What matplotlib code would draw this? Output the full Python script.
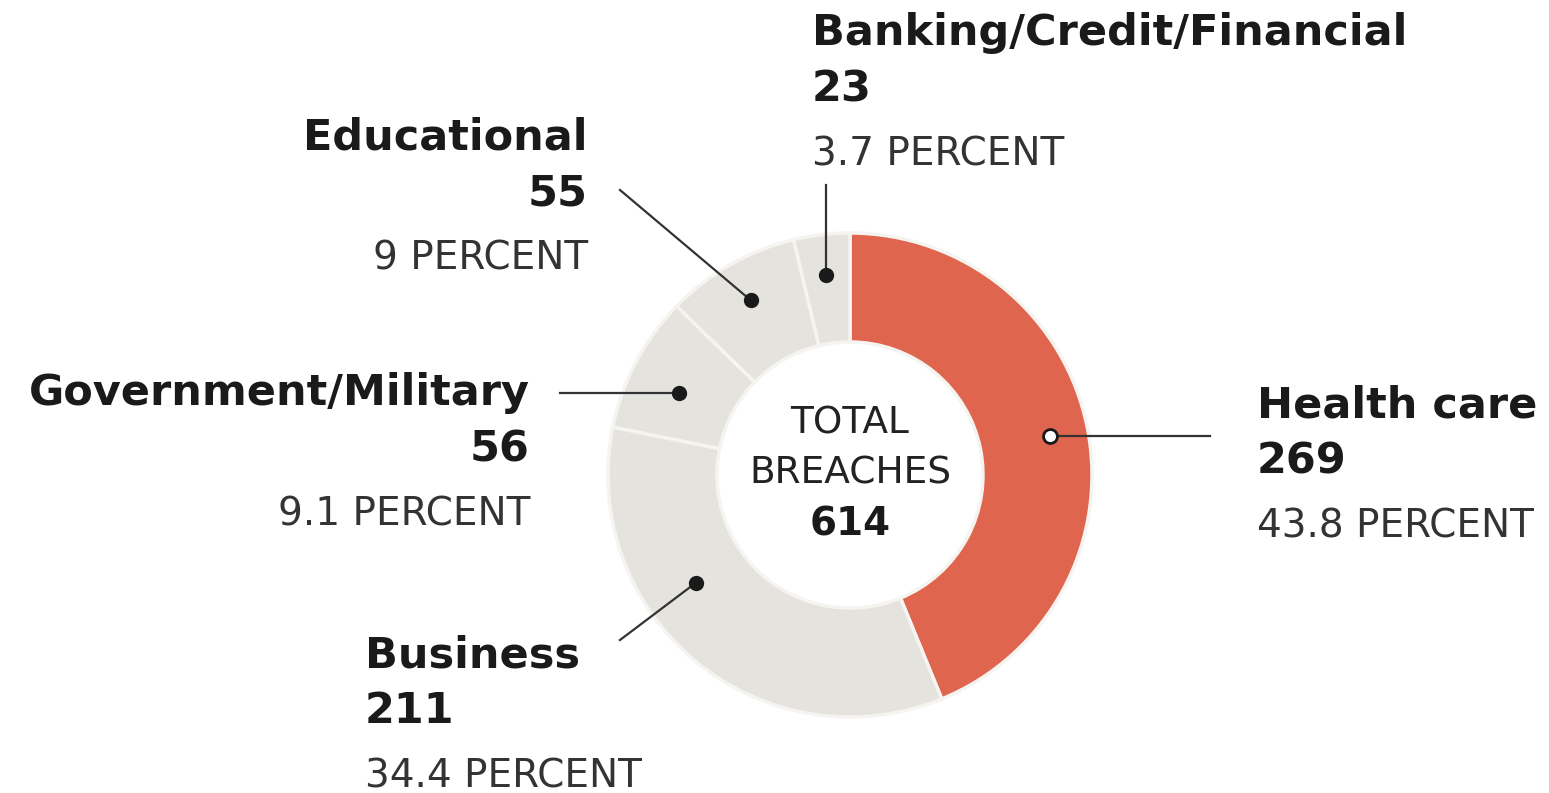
import numpy as np
import matplotlib
matplotlib.use("Agg")
import matplotlib.pyplot as plt

# data read from the graphic (clockwise from 12 o'clock)
sectors = ["Health care", "Business", "Government/Military", "Educational",
           "Banking/Credit/Financial"]
breaches = [269, 211, 56, 55, 23]
percents = ["43.8", "34.4", "9.1", "9", "3.7"]
total = 614

W, H = 1549, 793
RED = "#E0654F"
GRAY = "#E5E3DE"

fig = plt.figure(figsize=(W / 100, H / 100), dpi=100)
ax = fig.add_axes([0, 0, 1, 1])

cx, cy = 850, H - 475
colors = [RED] + [GRAY] * 4
wedges, _ = ax.pie(breaches, startangle=90, counterclock=False, colors=colors,
                   radius=242, center=(cx, cy),
                   wedgeprops=dict(width=109, edgecolor="#F6F4F0", linewidth=2.5))

ax.set_xlim(0, W)
ax.set_ylim(0, H)
ax.set_aspect("equal")
ax.axis("off")

# label layout: text x, alignment, name baseline (px from top), leader end, anchor position in wedge
layout = [
    (1257, "left", 417, (1210, None), 0.5, 204),
    (365, "left", 667, (620, 640), 0.625, 188),
    (530, "right", 405, (560, None), 0.43, 190),
    (588, "right", 150, (620, 190), 0.5, 201),
    (812, "left", 45, (None, 185), 0.5, 201),
]

for w, name, n, pct, (tx, ha, by, end, frac, rd) in zip(wedges, sectors, breaches, percents, layout):
    # wedges run clockwise, so start from theta2
    ang = np.radians(w.theta2 - frac * (w.theta2 - w.theta1))
    dx, dy = cx + rd * np.cos(ang), cy + rd * np.sin(ang)
    ex = dx if end[0] is None else end[0]
    ey = dy if end[1] is None else H - end[1]
    ax.plot([dx, ex], [dy, ey], color="#333333", lw=1.6, zorder=3)
    if name == "Health care":
        ax.plot(dx, dy, "o", ms=10, mfc="white", mec="#1a1a1a", mew=2, zorder=4)
    else:
        ax.plot(dx, dy, "o", ms=10, color="#1a1a1a", zorder=4)
    ax.text(tx, H - by, name, ha=ha, va="baseline", fontsize=31,
            fontweight="bold", color="#1a1a1a")
    ax.text(tx, H - by - 56, str(n), ha=ha, va="baseline", fontsize=31,
            fontweight="bold", color="#1a1a1a")
    ax.text(tx, H - by - 120, pct + " PERCENT", ha=ha, va="baseline",
            fontsize=28, color="#333333")

ax.text(cx, H - 433, "TOTAL", ha="center", va="baseline", fontsize=27, color="#222222")
ax.text(cx, H - 483, "BREACHES", ha="center", va="baseline", fontsize=27, color="#222222")
ax.text(cx, H - 535, str(total), ha="center", va="baseline", fontsize=28,
        fontweight="bold", color="#1a1a1a")

fig.savefig("out.png", dpi=100, facecolor="white")
